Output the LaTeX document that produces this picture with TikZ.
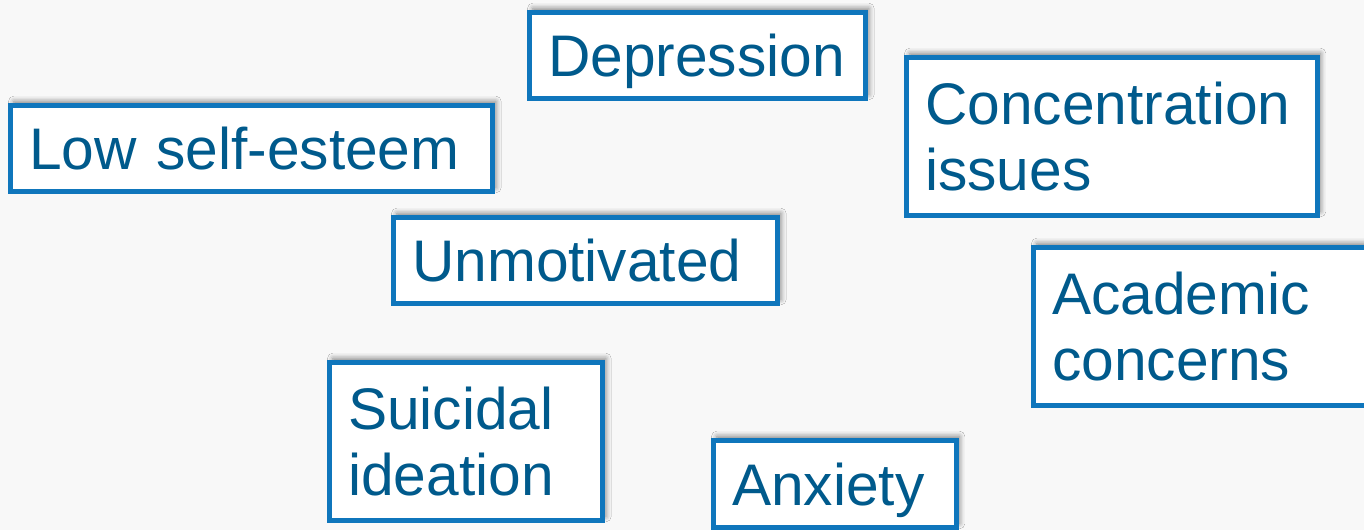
\documentclass[tikz,border=0pt]{standalone}
\usepackage{fontspec}
\setmainfont{Liberation Sans}
\usetikzlibrary{shadows.blur}
\definecolor{slidebg}{HTML}{F8F8F8}
\definecolor{boxblue}{HTML}{0F76BC}
\definecolor{textblue}{HTML}{005A8C}
\tikzset{
    symptom/.style={draw=boxblue, line width=3.75pt, fill=white, anchor=north west,
        inner xsep=14pt, inner ysep=0pt, align=left, text=textblue,
        font=\fontsize{44}{50}\selectfont,
        blur shadow={shadow xshift=2.5pt, shadow yshift=3pt, shadow blur radius=4pt, shadow opacity=50}},
    oneline/.style={symptom, text depth=0pt, minimum height=64.5pt}
}
\begin{document}
\begin{tikzpicture}[x=0.75pt, y=-0.75pt]
        \clip (0,0) rectangle (1364,530);
        \fill[slidebg] (0,0) rectangle (1364,530);
        \node[oneline, text width=224pt] (depression) at (527,10) {Depression};
        \node[oneline, text width=333.5pt] (selfesteem) at (8,103) {Low self-esteem};
        \node[symptom, text width=280pt, minimum height=118.5pt] (concentration) at (904,55) {Concentration\\issues};
        \node[oneline, text width=260pt] (unmotivated) at (391,215) {Unmotivated};
        \node[symptom, text width=226.5pt, minimum height=118.5pt] (academic) at (1031,245) {Academic\\concerns};
        \node[symptom, text width=176.75pt, minimum height=118.5pt] (suicidal) at (327,360) {Suicidal\\ideation};
        \node[oneline, text width=154pt, minimum height=65.25pt] (anxiety) at (711,438) {Anxiety};
    \end{tikzpicture}
\end{document}
